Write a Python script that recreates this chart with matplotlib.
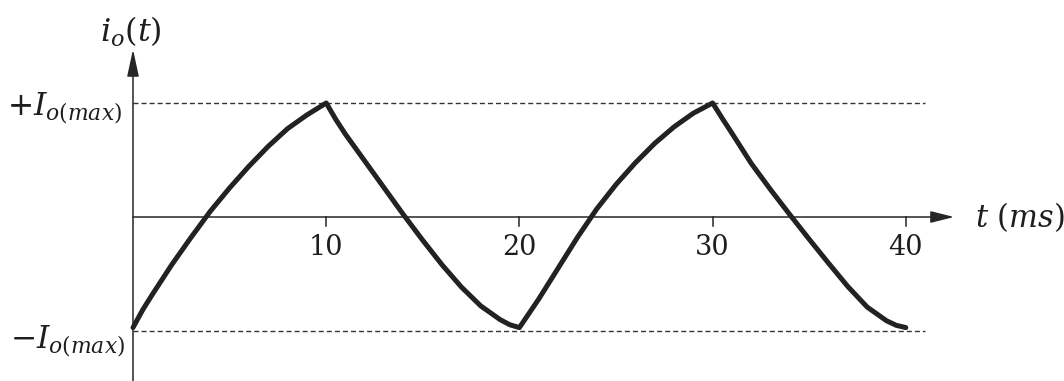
import matplotlib
matplotlib.use("Agg")
import matplotlib.pyplot as plt

plt.rcParams['mathtext.fontset'] = 'dejavuserif'
plt.rcParams['font.family'] = ['DejaVu Serif']

# ---- data (t in ms, i_o in units of I_o(max)) ----
t_rise1 = [0, 0.5, 1, 2, 3, 4, 5, 6, 7, 8, 9, 10]
i_rise1 = [-0.97, -0.815, -0.68, -0.42, -0.18, 0.05, 0.255, 0.445, 0.62, 0.775, 0.895, 1.0]
t_fall1 = [10.5, 11, 12, 13, 14, 15, 16, 17, 18, 19, 19.5, 20]
i_fall1 = [0.855, 0.725, 0.49, 0.255, 0.02, -0.205, -0.42, -0.615, -0.78, -0.90, -0.945, -0.97]
t_rise2 = [20.5, 21, 22, 23, 24, 25, 26, 27, 28, 29, 30]
i_rise2 = [-0.845, -0.72, -0.45, -0.18, 0.07, 0.285, 0.475, 0.645, 0.79, 0.91, 1.0]
t_fall2 = [30.5, 31, 32, 33, 34, 35, 36, 37, 38, 39, 39.5, 40]
i_fall2 = [0.865, 0.735, 0.47, 0.24, 0.02, -0.195, -0.405, -0.61, -0.79, -0.91, -0.95, -0.97]

tick_values = [10, 20, 30, 40]
tick_labels = ["10", "20", "30", "40"]
level_labels = [r"$+I_{o(max)}$", r"$-I_{o(max)}$"]
level_values = [1.0, -1.0]

t_ms = t_rise1 + t_fall1 + t_rise2 + t_fall2
i_o = i_rise1 + i_fall1 + i_rise2 + i_fall2

# ---- figure ----
W, H = 1064, 381
px_per_ms = 19.32
px_per_unit = 114.0
x0_px, y0_px = 133, 217  # origin position (from left, from top)

fig = plt.figure(figsize=(W / 100, H / 100), dpi=100)
ax = fig.add_axes([0, 0, 1, 1])
ax.set_xlim(-x0_px / px_per_ms, (W - x0_px) / px_per_ms)
ax.set_ylim(-(H - y0_px) / px_per_unit, y0_px / px_per_unit)
ax.axis('off')

axis_color = '#262626'
text_color = '#1e1e1e'
ymin, ymax = ax.get_ylim()

# dashed reference levels
for lv in level_values:
    ax.plot([0, 41.0], [lv, lv], color='#333333', lw=1.0,
            linestyle=(0, (3.6, 2.2)), zorder=1)

# x axis with arrow
ax.annotate('', xy=(42.5, 0), xytext=(0, 0),
            arrowprops=dict(arrowstyle='-|>,head_length=1.0,head_width=0.25',
                            mutation_scale=14.4, lw=1.1, color=axis_color,
                            shrinkA=0, shrinkB=0), zorder=2)
# y axis with arrow
ax.annotate('', xy=(0, 1.47), xytext=(0, ymin),
            arrowprops=dict(arrowstyle='-|>,head_length=1.15,head_width=0.25',
                            mutation_scale=14.4, lw=1.1, color=axis_color,
                            shrinkA=0, shrinkB=0), zorder=2)

# ticks and tick labels
for tv, tl in zip(tick_values, tick_labels):
    ax.plot([tv, tv], [0, -0.075], color=axis_color, lw=1.1, zorder=2)
    ax.text(tv, -0.265, tl, ha='center', va='center', fontsize=19.5,
            color=text_color)

# waveform
ax.plot(t_ms, i_o, color='#222222', lw=3.6, solid_joinstyle='round',
        solid_capstyle='round', zorder=3)

# labels
ax.text(-0.1, 1.62, r"$i_o(t)$", ha='center', va='center', fontsize=23,
        color=text_color)
ax.text(-0.55, level_values[0] - 0.05, level_labels[0], ha='right', va='center',
        fontsize=22.5, color=text_color)
ax.text(-0.4, level_values[1] - 0.09, level_labels[1], ha='right', va='center',
        fontsize=22.5, color=text_color)
ax.text(43.6, 0.0, r"$t\ (ms)$", ha='left', va='center', fontsize=22,
        color=text_color)

fig.savefig('out.png', dpi=100)
